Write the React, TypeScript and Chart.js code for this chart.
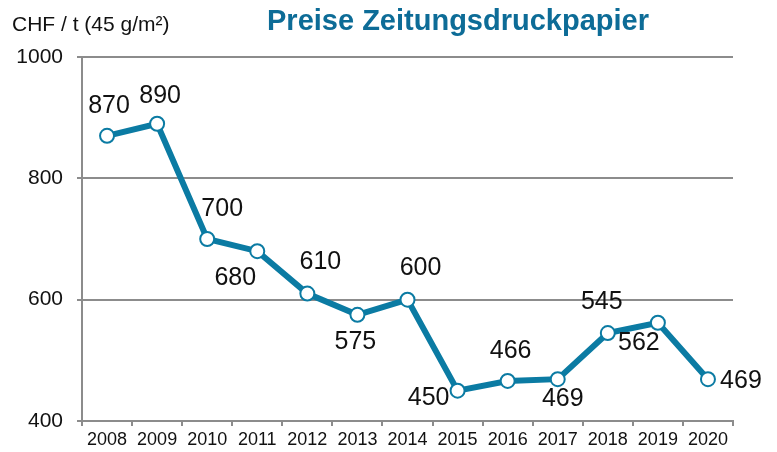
import React, { useEffect, useRef } from "react";
import { Chart, registerables } from "chart.js";

Chart.register(...registerables);

const years = ["2008", "2009", "2010", "2011", "2012", "2013", "2014", "2015", "2016", "2017", "2018", "2019", "2020"];
const prices = [870, 890, 700, 680, 610, 575, 600, 450, 466, 469, 545, 562, 469];
const yTicks = [400, 600, 800, 1000];
const titleText = "Preise Zeitungsdruckpapier";
const unitText = "CHF / t (45 g/m²)";

// label placement offsets (style only)
const labelOffsets: [number, number][] = [
  [2, -30], [3, -28], [15, -30], [-22, 27], [13, -31], [-2, 27], [13, -32],
  [-29, 7], [3, -30], [5, 20], [-6, -31], [-19, 20], [33, 2],
];

const FONT = "'Liberation Sans', Arial, sans-serif";
const LINE = "#0b7ba3";
const GRID = "#8c8c8c";

const labelPlugin = {
  id: "customLabels",
  afterDatasetsDraw(chart: any) {
    const ctx = chart.ctx;
    const meta = chart.getDatasetMeta(0);
    ctx.save();
    ctx.fillStyle = "#111";
    ctx.font = `25px ${FONT}`;
    ctx.textAlign = "center";
    ctx.textBaseline = "middle";
    meta.data.forEach((pt: any, i: number) => {
      const [dx, dy] = labelOffsets[i];
      ctx.fillText(String(prices[i]), pt.x + dx, pt.y + dy);
    });
    ctx.restore();
  },
  afterDraw(chart: any) {
    const ctx = chart.ctx;
    ctx.save();
    ctx.fillStyle = "#0d6c97";
    ctx.font = `bold 29px ${FONT}`;
    ctx.textAlign = "center";
    ctx.textBaseline = "alphabetic";
    ctx.fillText(titleText, 458, 30);
    ctx.fillStyle = "#111";
    ctx.font = `21px ${FONT}`;
    ctx.textAlign = "left";
    ctx.fillText(unitText, 12, 31);
    ctx.restore();
  },
};

export default function App() {
  const ref = useRef<HTMLCanvasElement>(null);
  useEffect(() => {
    if (!ref.current) return;
    const chart = new Chart(ref.current, {
      type: "line",
      data: {
        labels: years,
        datasets: [
          {
            data: prices,
            borderColor: LINE,
            borderWidth: 6,
            pointRadius: 7,
            pointBorderWidth: 2,
            pointBackgroundColor: "#ffffff",
            pointBorderColor: LINE,
            tension: 0,
          },
        ],
      },
      options: {
        animation: false,
        responsive: false,
        maintainAspectRatio: false,
        layout: { padding: { left: 0, top: 57, right: 44, bottom: 0 } },
        plugins: { legend: { display: false }, tooltip: { enabled: false }, title: { display: false } },
        scales: {
          x: {
            offset: true,
            grid: { display: true, offset: true, drawOnChartArea: false, drawTicks: true, tickLength: 5, color: GRID, lineWidth: 2 },
            border: { display: true, color: GRID, width: 2 },
            ticks: { color: "#111", font: { family: FONT, size: 18 }, padding: 3, maxRotation: 0, autoSkip: false },
            afterFit: (s: any) => { s.height = 31; },
          },
          y: {
            min: 400,
            max: 1000,
            afterBuildTicks: (s: any) => { s.ticks = yTicks.map((v) => ({ value: v })); },
            grid: { color: GRID, lineWidth: 2, tickLength: 5, drawTicks: true },
            border: { display: true, color: GRID, width: 2 },
            ticks: { color: "#111", font: { family: FONT, size: 21 }, padding: 14, callback: (v: any) => String(v) },
            afterFit: (s: any) => { s.width = 82; },
          },
        },
      },
      plugins: [labelPlugin],
    });
    return () => chart.destroy();
  }, []);
  return (
    <div style={{ position: "fixed", left: 0, top: 0, width: 777, height: 452, background: "#fff" }}>
      <canvas ref={ref} width={777} height={452} style={{ width: 777, height: 452 }} />
    </div>
  );
}
